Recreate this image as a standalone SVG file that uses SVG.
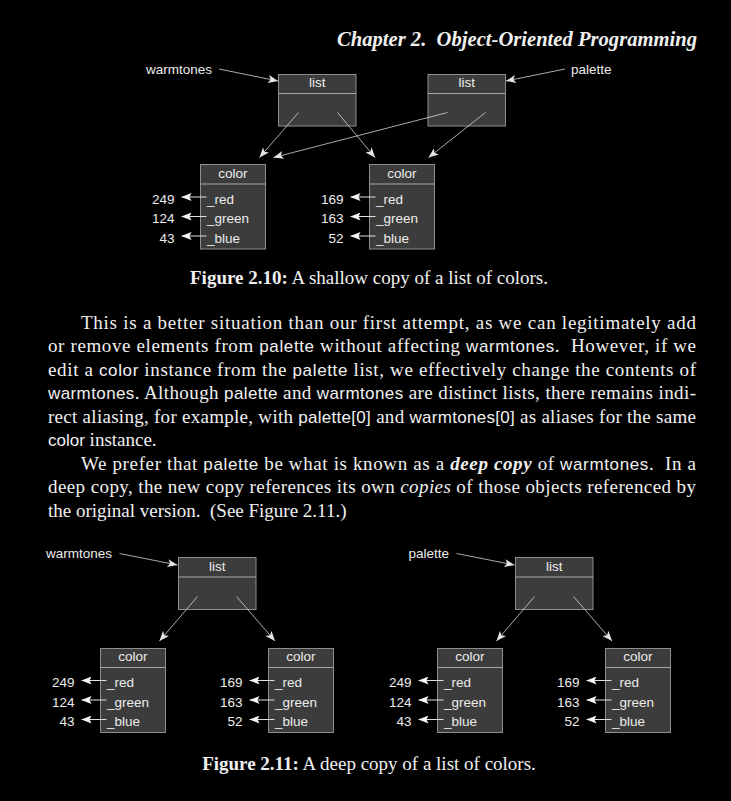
<svg xmlns="http://www.w3.org/2000/svg" width="731" height="801" viewBox="0 0 731 801">
<defs>
<style>
.bg{fill:#000}
.box{fill:#3c3c3c;stroke:#8e8e8e;stroke-width:1}
.dv{stroke:#a8a8a8;stroke-width:1}
.lbl{font-family:"Liberation Sans","DejaVu Sans",sans-serif;font-size:13.5px;fill:#ececec}
.mid{text-anchor:middle}
.end{text-anchor:end}
.edge{stroke:#d4d4d4;stroke-width:0.8;fill:none;marker-end:url(#ah)}
.fld{stroke:#e0e0e0;stroke-width:1;fill:none;marker-end:url(#ah2)}
.body{font-family:"Liberation Serif","Times New Roman",serif;font-size:19px;fill:#f0f0f0}
.sf{font-family:"Liberation Sans","DejaVu Sans",sans-serif;font-size:17px}
.hdr{font-family:"Liberation Serif","Times New Roman",serif;font-size:20px;font-weight:bold;font-style:italic;fill:#f0f0f0}
</style>
<marker id="ah" viewBox="0 0 10 8" refX="10" refY="4" markerWidth="11" markerHeight="8" markerUnits="userSpaceOnUse" orient="auto">
<path d="M0,0 L10,4 L0,8 L2.5,4 z" fill="#e4e4e4"/>
</marker>
<marker id="ah2" viewBox="0 0 10 8" refX="10" refY="4" markerWidth="10" markerHeight="8" markerUnits="userSpaceOnUse" orient="auto">
<path d="M0,0 L10,4 L0,8 L2,4 z" fill="#f4f4f4"/>
</marker>
</defs>
<rect class="bg" x="0" y="0" width="731" height="801"/>

<text class="hdr" x="337" y="46" textLength="360" lengthAdjust="spacingAndGlyphs" xml:space="preserve">Chapter 2.  Object-Oriented Programming</text>

<!-- Figure 2.10 -->
<g id="fig210-warmtones-label"><text class="lbl" x="146" y="73.5">warmtones</text></g>
<g id="fig210-palette-label"><text class="lbl" x="571" y="73.5">palette</text></g>

<g id="fig210-list1">
<rect class="box" x="278.5" y="74.5" width="77.5" height="51.5"/>
<line class="dv" x1="278.5" y1="93.5" x2="356" y2="93.5"/>
<text class="lbl mid" x="317.25" y="87">list</text>
</g>
<g id="fig210-list2">
<rect class="box" x="428" y="74.5" width="77.5" height="51.5"/>
<line class="dv" x1="428" y1="93.5" x2="505.5" y2="93.5"/>
<text class="lbl mid" x="466.75" y="87">list</text>
</g>
<g id="fig210-color1">
<rect class="box" x="200.5" y="164.5" width="65" height="84.5"/>
<line class="dv" x1="200.5" y1="184" x2="265.5" y2="184"/>
<text class="lbl mid" x="233" y="177.5">color</text>
<text class="lbl" x="207" y="203.5">_red</text>
<text class="lbl" x="207" y="223">_green</text>
<text class="lbl" x="207" y="242.5">_blue</text>
<text class="lbl end" x="174.5" y="203.5">249</text>
<text class="lbl end" x="174.5" y="223">124</text>
<text class="lbl end" x="174.5" y="242.5">43</text>
</g>
<g id="fig210-color2">
<rect class="box" x="369.5" y="164.5" width="65" height="84.5"/>
<line class="dv" x1="369.5" y1="184" x2="434.5" y2="184"/>
<text class="lbl mid" x="402" y="177.5">color</text>
<text class="lbl" x="376" y="203.5">_red</text>
<text class="lbl" x="376" y="223">_green</text>
<text class="lbl" x="376" y="242.5">_blue</text>
<text class="lbl end" x="343.5" y="203.5">169</text>
<text class="lbl end" x="343.5" y="223">163</text>
<text class="lbl end" x="343.5" y="242.5">52</text>
</g>

<g id="fig210-connectors">
<line class="edge" x1="219" y1="69" x2="278" y2="81"/>
<line class="edge" x1="565" y1="69" x2="506" y2="81"/>
<line class="edge" x1="298.5" y1="112.5" x2="259.5" y2="157.5"/>
<line class="edge" x1="337.5" y1="112.5" x2="375" y2="157.5"/>
<line class="edge" x1="447.5" y1="112.5" x2="273.5" y2="157.5"/>
<line class="edge" x1="485.5" y1="112.5" x2="428.5" y2="157.5"/>
<line class="fld" x1="206.5" y1="197" x2="181.5" y2="197"/>
<line class="fld" x1="206.5" y1="216.5" x2="181.5" y2="216.5"/>
<line class="fld" x1="206.5" y1="236" x2="181.5" y2="236"/>
<line class="fld" x1="375.5" y1="197" x2="350.5" y2="197"/>
<line class="fld" x1="375.5" y1="216.5" x2="350.5" y2="216.5"/>
<line class="fld" x1="375.5" y1="236" x2="350.5" y2="236"/>
</g>

<text class="body" x="369" y="284" text-anchor="middle"><tspan font-weight="bold">Figure 2.10:</tspan> A shallow copy of a list of colors.</text>

<!-- Body text -->
<g id="body-text">
<text class="body" x="81" y="328.5" textLength="615" lengthAdjust="spacing">This is a better situation than our first attempt, as we can legitimately add</text>
<text class="body" x="48" y="352" textLength="648" lengthAdjust="spacing" xml:space="preserve">or remove elements from <tspan class="sf">palette</tspan> without affecting <tspan class="sf">warmtones</tspan>.  However, if we</text>
<text class="body" x="48" y="375.5" textLength="648" lengthAdjust="spacing">edit a <tspan class="sf">color</tspan> instance from the <tspan class="sf">palette</tspan> list, we effectively change the contents of</text>
<text class="body" x="48" y="399" textLength="648" lengthAdjust="spacing"><tspan class="sf">warmtones</tspan>. Although <tspan class="sf">palette</tspan> and <tspan class="sf">warmtones</tspan> are distinct lists, there remains indi-</text>
<text class="body" x="48" y="422.5" textLength="648" lengthAdjust="spacing">rect aliasing, for example, with <tspan class="sf">palette[0]</tspan> and <tspan class="sf">warmtones[0]</tspan> as aliases for the same</text>
<text class="body" x="48" y="446"><tspan class="sf">color</tspan> instance.</text>
<text class="body" x="81" y="469.5" textLength="615" lengthAdjust="spacing" xml:space="preserve">We prefer that <tspan class="sf">palette</tspan> be what is known as a <tspan font-weight="bold" font-style="italic">deep copy</tspan> of <tspan class="sf">warmtones</tspan>.  In a</text>
<text class="body" x="48" y="493" textLength="648" lengthAdjust="spacing">deep copy, the new copy references its own <tspan font-style="italic">copies</tspan> of those objects referenced by</text>
<text class="body" x="48" y="516.5" xml:space="preserve">the original version.  (See Figure 2.11.)</text>
</g>

<!-- Figure 2.11 -->
<g id="fig211-warmtones-label"><text class="lbl" x="46" y="558">warmtones</text></g>
<g id="fig211-palette-label"><text class="lbl" x="408.5" y="558">palette</text></g>

<g id="fig211-list-warm">
<rect class="box" x="178.5" y="557.5" width="77.5" height="52"/>
<line class="dv" x1="178.5" y1="577" x2="256" y2="577"/>
<text class="lbl mid" x="217.25" y="570.5">list</text>
</g>
<g id="fig211-color-w1">
<rect class="box" x="100.5" y="648.5" width="65" height="84"/>
<line class="dv" x1="100.5" y1="667.5" x2="165.5" y2="667.5"/>
<text class="lbl mid" x="133" y="661">color</text>
<text class="lbl" x="107" y="687">_red</text>
<text class="lbl" x="107" y="706.5">_green</text>
<text class="lbl" x="107" y="726">_blue</text>
<text class="lbl end" x="74.5" y="687">249</text>
<text class="lbl end" x="74.5" y="706.5">124</text>
<text class="lbl end" x="74.5" y="726">43</text>
</g>
<g id="fig211-color-w2">
<rect class="box" x="268.5" y="648.5" width="65" height="84"/>
<line class="dv" x1="268.5" y1="667.5" x2="333.5" y2="667.5"/>
<text class="lbl mid" x="301" y="661">color</text>
<text class="lbl" x="275" y="687">_red</text>
<text class="lbl" x="275" y="706.5">_green</text>
<text class="lbl" x="275" y="726">_blue</text>
<text class="lbl end" x="242.5" y="687">169</text>
<text class="lbl end" x="242.5" y="706.5">163</text>
<text class="lbl end" x="242.5" y="726">52</text>
</g>

<g id="fig211-list-pal">
<rect class="box" x="515.5" y="557.5" width="77.5" height="52"/>
<line class="dv" x1="515.5" y1="577" x2="593" y2="577"/>
<text class="lbl mid" x="554.25" y="570.5">list</text>
</g>
<g id="fig211-color-p1">
<rect class="box" x="437.5" y="648.5" width="65" height="84"/>
<line class="dv" x1="437.5" y1="667.5" x2="502.5" y2="667.5"/>
<text class="lbl mid" x="470" y="661">color</text>
<text class="lbl" x="444" y="687">_red</text>
<text class="lbl" x="444" y="706.5">_green</text>
<text class="lbl" x="444" y="726">_blue</text>
<text class="lbl end" x="411.5" y="687">249</text>
<text class="lbl end" x="411.5" y="706.5">124</text>
<text class="lbl end" x="411.5" y="726">43</text>
</g>
<g id="fig211-color-p2">
<rect class="box" x="605.5" y="648.5" width="65" height="84"/>
<line class="dv" x1="605.5" y1="667.5" x2="670.5" y2="667.5"/>
<text class="lbl mid" x="638" y="661">color</text>
<text class="lbl" x="612" y="687">_red</text>
<text class="lbl" x="612" y="706.5">_green</text>
<text class="lbl" x="612" y="726">_blue</text>
<text class="lbl end" x="579.5" y="687">169</text>
<text class="lbl end" x="579.5" y="706.5">163</text>
<text class="lbl end" x="579.5" y="726">52</text>
</g>

<g id="fig211-connectors">
<line class="edge" x1="119.5" y1="553.5" x2="177.5" y2="565"/>
<line class="edge" x1="197.5" y1="596.5" x2="159.5" y2="641"/>
<line class="edge" x1="236.5" y1="596.5" x2="275" y2="641"/>
<line class="edge" x1="456.5" y1="553.5" x2="514.5" y2="565"/>
<line class="edge" x1="534.5" y1="596.5" x2="496.5" y2="641"/>
<line class="edge" x1="573.5" y1="596.5" x2="612" y2="641"/>
<line class="fld" x1="106.5" y1="680.5" x2="81.5" y2="680.5"/>
<line class="fld" x1="106.5" y1="700" x2="81.5" y2="700"/>
<line class="fld" x1="106.5" y1="719.5" x2="81.5" y2="719.5"/>
<line class="fld" x1="274.5" y1="680.5" x2="249.5" y2="680.5"/>
<line class="fld" x1="274.5" y1="700" x2="249.5" y2="700"/>
<line class="fld" x1="274.5" y1="719.5" x2="249.5" y2="719.5"/>
<line class="fld" x1="443.5" y1="680.5" x2="418.5" y2="680.5"/>
<line class="fld" x1="443.5" y1="700" x2="418.5" y2="700"/>
<line class="fld" x1="443.5" y1="719.5" x2="418.5" y2="719.5"/>
<line class="fld" x1="611.5" y1="680.5" x2="586.5" y2="680.5"/>
<line class="fld" x1="611.5" y1="700" x2="586.5" y2="700"/>
<line class="fld" x1="611.5" y1="719.5" x2="586.5" y2="719.5"/>
</g>

<text class="body" x="369" y="770" text-anchor="middle"><tspan font-weight="bold">Figure 2.11:</tspan> A deep copy of a list of colors.</text>
</svg>
